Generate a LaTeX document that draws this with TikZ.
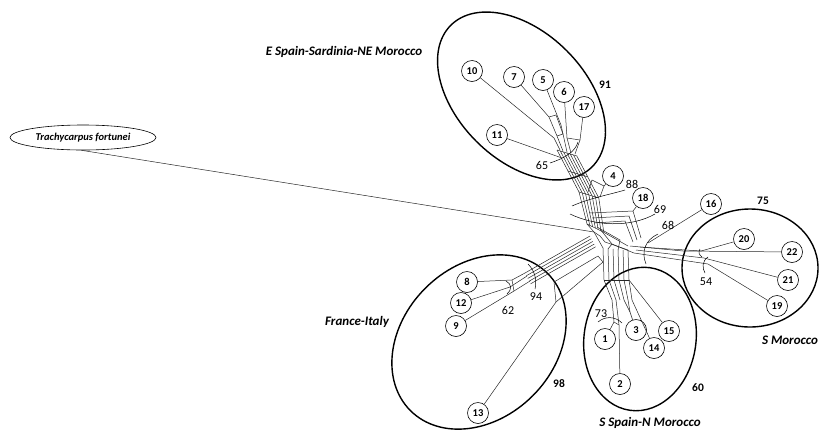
\documentclass[tikz,border=0pt]{standalone}
\usepackage{fontspec}
\setmainfont{Carlito}
\usetikzlibrary{shapes.geometric}
\begin{document}
\begin{tikzpicture}[x=1pt,y=-1pt,
 leaf/.style={circle,draw,line width=0.6pt,minimum size=21pt,inner sep=0pt,fill=white,font=\fontsize{10.5}{10}\selectfont\bfseries},
 net/.style={line width=0.5pt,black!85},
 grp/.style={line width=1.4pt},
 sup/.style={font=\fontsize{12}{12}\selectfont},
 gsup/.style={font=\fontsize{11.5}{12}\selectfont\bfseries},
 glab/.style={font=\fontsize{13}{14}\selectfont\bfseries\itshape},
 arcl/.style={line width=0.5pt}]
\useasboundingbox (0,0) rectangle (826,429);

% group ellipses
\draw[grp, rotate around={-45:(521.5,96)}] (521.5,96) ellipse[x radius=100pt, y radius=64pt];
\draw[grp, rotate around={45:(479,342)}] (479,342) ellipse[x radius=97pt, y radius=76pt];
\draw[grp, rotate around={-8:(640,339)}] (640,339) ellipse[x radius=56pt, y radius=72pt];
\draw[grp] (750,268) ellipse[x radius=68pt, y radius=59pt];

% outgroup
\node[ellipse,draw,line width=0.6pt,minimum width=146pt,minimum height=25pt,inner sep=0pt,
      font=\fontsize{10.5}{10}\selectfont\bfseries\itshape] (tf) at (83,137.5) {Trachycarpus fortunei};
\coordinate (J0) at (594,232);
\draw[net] (tf.-97) -- (J0);

% up band (E Spain)
\foreach \k in {0,...,6}{
  \draw[net] ({557+3.3*\k},{150+\k}) -- ({579+3.3*\k},{192+\k}) -- ({587+2.8*\k},{224+1.4*\k});
}
\draw[net] (557,150)--(577,156);
\draw[net] (568,171)--(588,177);
\draw[net] (579,192)--(599,198);
\draw[net] (587,224)--(604,232.4);

% E Spain leaves
\node[leaf] (n10) at (472,71) {10};
\node[leaf] (n7) at (514,77) {7};
\node[leaf] (n5) at (543,80) {5};
\node[leaf] (n6) at (564,92) {6};
\node[leaf] (n17) at (584,107) {17};
\node[leaf] (n11) at (497,135) {11};
\node[leaf] (n4) at (613,176) {4};
\node[leaf] (n18) at (643,198) {18};
\draw[net] (n10) -- (554,138) -- (560,150);
\draw[net] (n7) -- (549,117) -- (557,136) -- (563,151);
\draw[net] (549,117) -- (556,115) -- (563,134) -- (557,136);
\draw[net] (n5) -- (561,125) -- (567,152);
\draw[net] (n6) -- (567,138) -- (571,153);
\draw[net] (n17) -- (580,140) -- (575,154);
\draw[net] (567,138) -- (580,140);
\draw[net] (n11) -- (562,158);

% node 4 box
\draw[net] (n4) -- (604,186) -- (592,180);
\draw[net] (604,186) -- (600,197);
\draw[net] (592,180) -- (588,192);

% node 18 box
\draw[net] (n18) -- (633,211);
\draw[net] (590,213) -- (633,211) -- (641,238);
\draw[net] (592,218) -- (629,216) -- (637,240);
\draw[net] (594,223) -- (625,221) -- (633,242);

% core hub
\draw[net] (587,224) -- (J0) -- (600,236);
\draw[net] (J0) -- (603,248);
\draw[net] (604,232.4) -- (628,246);
\draw[net] (600,229) -- (612,244) -- (608,249);
\draw[net] (597,227) -- (620,240) -- (618,250);
\draw[net] (600,236) -- (605,242) -- (628,250);
\draw[net] (612,244) -- (634,253);

% France-Italy band
\foreach \k in {0,...,4}{
  \draw[net] ({525+1.4*\k},{273+2.7*\k}) -- ({590+1.4*\k},{236+2.7*\k});
}
\node[leaf] (n8) at (467,282) {8};
\node[leaf] (n12) at (461,303) {12};
\node[leaf] (n9) at (456,326) {9};
\node[leaf] (n13) at (478,413) {13};
\draw[net] (n8) -- (512,280) -- (525,273);
\draw[net] (n12) -- (510,287) -- (527,276);
\draw[net] (n9) -- (514,291) -- (530,281);
\draw[net] (512,280) -- (514,291);
\draw[net] (n13) -- (556,302) -- (554,282) -- (598,256);
\draw[net] (556,302) -- (603,262);
\draw[net] (598,256) -- (603,262);

% S Spain band
\foreach \k in {0,...,5}{
  \draw[net] ({603+5*\k},{248+0.5*\k}) -- ({604+5*\k},280) -- ({612+4*\k},300);
}
\draw[net] (604,280) -- (629,280);
\node[leaf] (n1) at (605,339) {1};
\node[leaf] (n2) at (620,384) {2};
\node[leaf] (n3) at (636,330) {3};
\node[leaf] (n14) at (654,348) {14};
\node[leaf] (n15) at (669,331) {15};
\draw[net] (n1) -- (614,322) -- (612,300);
\draw[net] (n2) -- (619,325) -- (616,300);
\draw[net] (614,322) -- (619,325);
\draw[net] (n3) -- (630,312) -- (628,300);
\draw[net] (630,312) -- (624,300);
\draw[net] (n14) -- (632,300);
\draw[net] (n15) -- (629,280);

% S Morocco band
\node[leaf] (n16) at (711,204) {16};
\node[leaf] (n20) at (744,239) {20};
\node[leaf] (n22) at (792,252) {22};
\node[leaf] (n21) at (788,280) {21};
\node[leaf] (n19) at (777,306) {19};
\draw[net] (n22) -- (683,251) -- (630,246);
\draw[net] (n20) -- (701,251) -- (640,247);
\draw[net] (n21) -- (704,258) -- (636,250);
\draw[net] (n19) -- (708,264) -- (634,253);
\draw[net] (n16) -- (648,243);

% support arcs
\draw[arcl] (572,206) .. controls (590,198) and (612,194) .. (625,190);
\draw[arcl] (570,214) .. controls (595,226) and (630,228) .. (655,214);
\draw[arcl] (658,234) .. controls (645,240) and (641,252) .. (646,264);
\draw[arcl] (708,257) .. controls (702,261) and (702,268) .. (705,273);
\draw[arcl] (700,249) .. controls (698,252) and (699,255) .. (702,257);
\draw[arcl] (550,163) .. controls (565,158) and (575,152) .. (578,142);
\draw[arcl] (528,264) .. controls (535,271) and (537,280) .. (535,289);
\draw[arcl] (506,281) .. controls (512,284) and (512,290) .. (507,294);
\draw[arcl] (598,322) .. controls (605,316) and (615,316) .. (622,323);

% support values
\node[sup] (s88) at (632,184) {88};
\node[sup] (s69) at (660,209) {69};
\node[sup] (s68) at (668,225) {68};
\node[sup] (s54) at (706,282) {54};
\node[sup] (s94) at (536,297) {94};
\node[sup] (s62) at (508,310) {62};
\node[sup] (s65) at (542,165) {65};
\node[sup] (s73) at (601,314) {73};
\node[gsup] (g91) at (605,85) {91};
\node[gsup] (g98) at (559,384) {98};
\node[gsup] (g75) at (763,201) {75};
\node[gsup] (g60) at (698,388) {60};

% group labels
\node[glab] (lE) at (344,52) {E Spain-Sardinia-NE Morocco};
\node[glab] (lF) at (357,322) {France-Italy};
\node[glab] (lS) at (650,423) {S Spain-N Morocco};
\node[glab] (lM) at (790,340) {S Morocco};
\end{tikzpicture}
\end{document}
